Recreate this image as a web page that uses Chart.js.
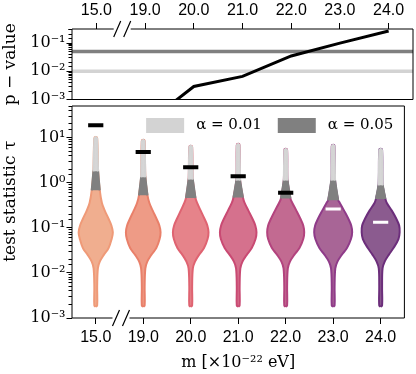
<!DOCTYPE html>
<html><head><meta charset="utf-8">
<script src="https://cdn.jsdelivr.net/npm/chart.js@4.4.1/dist/chart.umd.min.js"></script>
<style>
html,body{margin:0;padding:0;background:#fff;}
#wrap{position:relative;width:416px;height:374px;overflow:hidden;}
canvas{position:absolute;left:0;top:0;}
</style></head><body>
<div id="wrap"><canvas id="cTop" width="416" height="374"></canvas><canvas id="cBot" width="416" height="374"></canvas></div>
<script>
// ---------------- data ----------------
const categories = ['15.0', '19.0', '20.0', '21.0', '22.0', '23.0', '24.0'];
const pValues = [1e-5, 1.3e-4, 2.9e-3, 6.6e-3, 3.5e-2, 1.0e-1, 2.7e-1];
const alphaLevels = [0.01, 0.05];
const observedTau = [18.7, 4.8, 2.2, 1.38, 0.6, 0.26, 0.133];
const pTicks = [1e-3, 1e-2, 1e-1];
const tauTicks = [1e-3, 1e-2, 1e-1, 1, 10];

// violin outlines: log10(tau) levels of the body and half-widths (category units) per violin
const bodyLogTau = [-2.72, -2.3, -1.9, -1.75, -1.6, -1.45, -1.25, -1.1, -0.95, -0.8, -0.62, -0.45];
const bodyHalfWidth = [
  [0.03, 0.03, 0.045, 0.085, 0.17, 0.27, 0.335, 0.36, 0.33, 0.27, 0.19, 0.13],
  [0.03, 0.03, 0.045, 0.085, 0.17, 0.275, 0.345, 0.365, 0.34, 0.28, 0.20, 0.13],
  [0.03, 0.03, 0.045, 0.09, 0.175, 0.28, 0.355, 0.375, 0.35, 0.29, 0.21, 0.135],
  [0.03, 0.03, 0.045, 0.09, 0.18, 0.285, 0.365, 0.385, 0.36, 0.30, 0.215, 0.135],
  [0.03, 0.03, 0.045, 0.09, 0.18, 0.29, 0.37, 0.39, 0.37, 0.31, 0.225, 0.14],
  [0.03, 0.03, 0.045, 0.09, 0.18, 0.29, 0.375, 0.40, 0.38, 0.32, 0.23, 0.14],
  [0.03, 0.03, 0.04, 0.085, 0.17, 0.27, 0.375, 0.40, 0.39, 0.33, 0.235, 0.13]
];
// 95% and 99% quantiles of the null distribution (log10 tau) and outline half-widths there
const q95LogTau = [-0.17, -0.28, -0.34, -0.33, -0.35, -0.39, -0.36];
const q95HalfWidth = [0.085, 0.09, 0.1, 0.1, 0.1, 0.105, 0.1];
const q99LogTau = [0.25, 0.12, 0.07, 0.05, 0.05, 0.05, -0.06];
const q99HalfWidth = [0.05, 0.045, 0.045, 0.04, 0.04, 0.04, 0.045];
const topLogTau = [0.98, 0.92, 0.79, 0.83, 0.72, 0.81, 0.72];
const tailHalfWidth = [0.03, 0.03, 0.03, 0.03, 0.03, 0.03, 0.03];

// ---------------- styles ----------------
const SANS = "'Liberation Sans', Arial, sans-serif";
const SERIF = "'DejaVu Serif', serif";
const violinFill = ['#f0ae8f', '#ee9b86', '#e6838a', '#d5718d', '#c26a91', '#a86596', '#8b5b8f'];
const violinEdge = ['#ef9a78', '#e9806a', '#df6371', '#c94a73', '#b3437e', '#8f3b89', '#6c2e7b'];
const markerColor = ['#000', '#000', '#000', '#000', '#000', '#fff', '#fff'];
const alphaColors = ['#d3d3d3', '#808080'];
const lightTail = '#d6d6d6';

const SUP = {'-': '\u207B', '0': '\u2070', '1': '\u00B9', '2': '\u00B2', '3': '\u00B3', '4': '\u2074', '5': '\u2075', '6': '\u2076', '7': '\u2077', '8': '\u2078', '9': '\u2079'};
const sup = (n) => String(n).split('').map(c => SUP[c]).join('');
const isMajor = (v, list) => list.some(t => Math.abs(Math.log10(v) - Math.log10(t)) < 1e-6);
const logLabel = (v, list) => isMajor(v, list) ? '10' + sup(Math.round(Math.log10(v))) : '';
const breakAtX = 0.5;

function xAxis(position, height, title) {
  return {
    type: 'linear', position, min: -0.5, max: 6.5, offset: false,
    afterBuildTicks(s) { s.ticks = categories.map((c, i) => ({value: i})); },
    afterFit(s) { s.height = height; },
    border: {display: false},
    grid: {drawOnChartArea: false, drawTicks: true, tickLength: 6, tickColor: '#000', tickWidth: 1, offset: false},
    ticks: {autoSkip: false, maxRotation: 0, padding: position === 'top' ? 3 : 4, color: '#000',
      font: {family: SANS, size: 16}, callback: (v, idx) => categories[idx]},
    title: title ? {display: true, text: title, color: '#000', font: {family: SERIF, size: 16}, padding: {top: 0, bottom: 1.5}} : {display: false}
  };
}
function yAxis(min, max, list, title) {
  return {
    type: 'logarithmic', position: 'left', min, max,
    afterFit(s) { s.width = 72; },
    border: {display: false},
    grid: {drawOnChartArea: false, drawTicks: true, tickLength: 5.5, tickColor: '#000', tickWidth: 1,
      tickBorderDash: (c) => (c.tick && isMajor(c.tick.value, list)) ? [] : [0, 2, 20]},
    ticks: {autoSkip: false, padding: 1, color: '#000', font: {family: SERIF, size: 16},
      callback: (v) => logLabel(v, list)},
    afterBuildTicks(s) { s.ticks = s.ticks.filter(t => t.value >= min * 0.999 && t.value <= max * 1.001); },
    title: {display: true, text: title, color: '#000', font: {family: SERIF, size: 17}, padding: {top: 0.5, bottom: 0}}
  };
}
function spinePlugin(breakSide) {
  return {
    id: 'spines',
    afterDatasetsDraw(chart) {
      const {ctx, chartArea: a} = chart;
      const bx = chart.scales.x.getPixelForValue(breakAtX);
      const L = a.left, R = a.right, T = a.top, B = a.bottom;
      const yb = breakSide === 'top' ? T : B;
      const yo = breakSide === 'top' ? B : T;
      ctx.save();
      ctx.strokeStyle = '#000'; ctx.lineWidth = 1;
      ctx.beginPath();
      ctx.moveTo(L, yo); ctx.lineTo(R, yo);
      ctx.moveTo(L, T); ctx.lineTo(L, B);
      ctx.moveTo(R, T); ctx.lineTo(R, B);
      ctx.moveTo(L, yb); ctx.lineTo(bx - 7, yb);
      ctx.moveTo(bx + 10, yb); ctx.lineTo(R, yb);
      ctx.stroke();
      ctx.lineWidth = 1.2;
      ctx.beginPath();
      ctx.moveTo(bx - 7, yb + 8); ctx.lineTo(bx, yb - 8);
      ctx.moveTo(bx + 3, yb + 8); ctx.lineTo(bx + 10, yb - 8);
      ctx.stroke();
      ctx.restore();
    }
  };
}
const legendPlugin = {
  id: 'alphaLegend',
  afterDatasetsDraw(chart) {
    const {ctx, chartArea: a} = chart;
    ctx.save();
    ctx.font = '15px ' + SERIF;
    ctx.textBaseline = 'middle';
    const yMid = a.top + 19.5;
    let x = a.right - 11;
    for (let k = alphaLevels.length - 1; k >= 0; k--) {
      const text = '\u03B1 = ' + alphaLevels[k].toFixed(2);
      x -= ctx.measureText(text).width;
      ctx.fillStyle = '#000';
      ctx.fillText(text, x, yMid);
      x -= 12 + 38;
      ctx.fillStyle = alphaColors[k];
      ctx.fillRect(x, yMid - 7.5, 38, 15);
      x -= 16;
    }
    ctx.restore();
  }
};

// ---------------- top panel: p-value ----------------
const topDatasets = [
  {type: 'line', data: pValues.map((p, i) => ({x: i, y: p})), borderColor: '#000', borderWidth: 3,
   pointRadius: 0, fill: false, clip: 0, order: 0}
];
alphaLevels.forEach((a, k) => {
  topDatasets.push({type: 'line', data: [{x: -0.5, y: a}, {x: 6.5, y: a}], borderColor: alphaColors[k],
    borderWidth: 3.5, pointRadius: 0, fill: false, order: 2 - k});
});
new Chart(document.getElementById('cTop'), {
  type: 'line',
  data: {datasets: topDatasets},
  options: {
    responsive: false, animation: false, events: [], devicePixelRatio: 1,
    layout: {padding: {left: 0, right: 3, top: 0, bottom: 374 - 99.5}},
    plugins: {legend: {display: false}, tooltip: {enabled: false}},
    scales: {x: xAxis('top', 29, null), y: yAxis(1e-3, Math.pow(10, -0.5), pTicks, 'p \u2212 value')}
  },
  plugins: [spinePlugin('top')]
});

// ---------------- bottom panel: violins ----------------
const botDatasets = [];
categories.forEach((c, i) => {
  const lv = [...bodyLogTau, q95LogTau[i], q99LogTau[i], topLogTau[i]];
  const wd = [...bodyHalfWidth[i], q95HalfWidth[i], q99HalfWidth[i], tailHalfWidth[i]];
  const right = lv.map((l, k) => ({x: i + wd[k], y: Math.pow(10, l)}));
  const left = lv.map((l, k) => ({x: i - wd[k], y: Math.pow(10, l)})).reverse();
  const bot = {x: i, y: Math.pow(10, lv[0] - 0.03)};
  const tip = {x: i, y: Math.pow(10, topLogTau[i] + 0.03)};
  botDatasets.push({type: 'line', data: [bot, ...right, tip, ...left, bot], fill: 'shape',
    backgroundColor: violinFill[i], borderColor: violinEdge[i], borderWidth: 2, pointRadius: 0,
    tension: 0.35, order: 3});
  const q95 = Math.pow(10, q95LogTau[i]), q99 = Math.pow(10, q99LogTau[i]), tp = Math.pow(10, topLogTau[i]);
  botDatasets.push({type: 'line', data: [
      {x: i + q95HalfWidth[i], y: q95}, {x: i + q99HalfWidth[i], y: q99},
      {x: i - q99HalfWidth[i], y: q99}, {x: i - q95HalfWidth[i], y: q95}],
    fill: 'shape', backgroundColor: alphaColors[1], borderColor: alphaColors[1], borderWidth: 2,
    pointRadius: 0, tension: 0.0001, order: 2});
  botDatasets.push({type: 'line', data: [
      {x: i + q99HalfWidth[i], y: q99}, {x: i + tailHalfWidth[i], y: tp}, tip,
      {x: i - tailHalfWidth[i], y: tp}, {x: i - q99HalfWidth[i], y: q99}],
    fill: 'shape', backgroundColor: lightTail, borderColor: alphaColors[0], borderWidth: 2,
    pointRadius: 0, tension: 0.0001, order: 1});
});
botDatasets.push({type: 'scatter', data: observedTau.map((t, i) => ({x: i, y: t})), showLine: false,
  pointStyle: 'line', pointRadius: 7.6, pointBorderColor: markerColor,
  pointBorderWidth: markerColor.map(c => c === '#fff' ? 3 : 4), order: 0});

new Chart(document.getElementById('cBot'), {
  type: 'line',
  data: {datasets: botDatasets},
  options: {
    responsive: false, animation: false, events: [], devicePixelRatio: 1,
    layout: {padding: {left: 0, right: 3, top: 106, bottom: 0}},
    plugins: {legend: {display: false}, tooltip: {enabled: false}},
    scales: {
      x: xAxis('bottom', 56, 'm [\u00D710\u207B\u00B2\u00B2 eV]'),
      y: yAxis(1e-3, 50, tauTicks, '    test statistic \u03C4')
    }
  },
  plugins: [spinePlugin('bottom'), legendPlugin]
});
</script>
</body></html>
